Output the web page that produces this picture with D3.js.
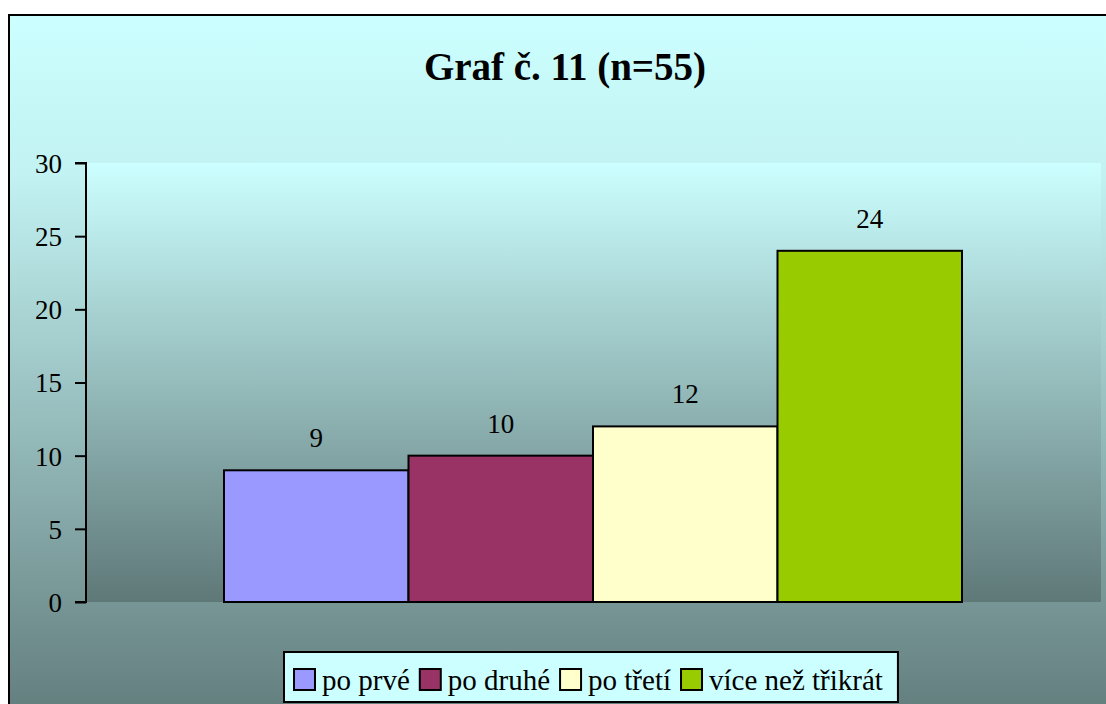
<!DOCTYPE html>
<html><head><meta charset="utf-8">
<script src="https://cdn.jsdelivr.net/npm/d3@7"></script>
</head><body style="margin:0;overflow:hidden">
<script>
const title = "Graf č. 11 (n=55)";
const series = ["po prvé", "po druhé", "po třetí", "více než třikrát"];
const values = [9, 10, 12, 24];
const colors = ["#9999FF", "#993366", "#FFFFCC", "#99CC00"];
const yTicks = [0, 5, 10, 15, 20, 25, 30];

const FONT = '"Liberation Serif"';
const W = 1106, H = 704;
const svg = d3.select("body").append("svg").attr("width", W).attr("height", H)
  .style("display","block").style("font-family", FONT);
const defs = svg.append("defs");
const g1 = defs.append("linearGradient").attr("id","outerG").attr("x1",0).attr("y1",0).attr("x2",0).attr("y2",1);
g1.append("stop").attr("offset","0%").attr("stop-color","#CCFFFF");
g1.append("stop").attr("offset","22%").attr("stop-color","#C2F2F2");
g1.append("stop").attr("offset","100%").attr("stop-color","#5F7878");
const g2 = defs.append("linearGradient").attr("id","plotG").attr("x1",0).attr("y1",0).attr("x2",0).attr("y2",1);
g2.append("stop").attr("offset","0%").attr("stop-color","#CCFFFF");
g2.append("stop").attr("offset","100%").attr("stop-color","#5F7878");

svg.append("rect").attr("x",9).attr("y",15).attr("width",W+20).attr("height",H+20)
  .attr("fill","url(#outerG)").attr("stroke","#000").attr("stroke-width",2);

const plot = {l: 87, r: 1101, t: 163, b: 602};
svg.append("rect").attr("x",plot.l).attr("y",plot.t).attr("width",plot.r-plot.l).attr("height",plot.b-plot.t)
  .attr("fill","url(#plotG)");

const y = d3.scaleLinear().domain([0,30]).range([plot.b, plot.t]);
const x = d3.scaleBand().domain(series).range([224, 962]).paddingInner(0).paddingOuter(0);

svg.selectAll("rect.bar").data(values).enter().append("rect").attr("class","bar")
  .attr("x",(d,i)=>x(series[i])).attr("y",d=>y(d))
  .attr("width",x.bandwidth()).attr("height",d=>y(0)-y(d))
  .attr("fill",(d,i)=>colors[i]).attr("stroke","#000").attr("stroke-width",2);

svg.selectAll("text.val").data(values).enter().append("text").attr("class","val")
  .attr("x",(d,i)=>x(series[i])+x.bandwidth()/2).attr("y",d=>y(d)-23)
  .attr("text-anchor","middle").style("font-family",FONT).style("font-size","27px")
  .style("fill","#000").text(d=>d);

const axis = d3.axisLeft(y).tickValues(yTicks).tickSize(11).tickPadding(13).tickFormat(d3.format("d"));
const ga = svg.append("g").attr("transform",`translate(${plot.l-1},0)`).call(axis);
ga.attr("font-family", "Liberation Serif").attr("font-size", 27);
ga.select(".domain").attr("stroke","#000").attr("stroke-width",2).attr("d",`M-11,${plot.t}H0V${plot.b}H-11`);
ga.selectAll(".tick line").attr("stroke","#000").attr("stroke-width",2);
ga.selectAll(".tick text").style("font-family",FONT).style("font-size","27px").style("fill","#000").attr("dy","0.35em");

svg.append("text").attr("x",565).attr("y",80).attr("text-anchor","middle")
  .style("font-family",FONT).style("font-weight","bold").style("font-size","39px")
  .style("fill","#000").text(title);

const leg = svg.append("g");
const legBox = leg.append("rect").attr("y",652).attr("height",50).attr("fill","#CCFFFF").attr("stroke","#000").attr("stroke-width",2);
let cx = 294;
series.forEach((s,i)=>{
  leg.append("rect").attr("x",cx).attr("y",669).attr("width",21).attr("height",21)
    .attr("fill",colors[i]).attr("stroke","#000").attr("stroke-width",2);
  const t = leg.append("text").attr("x",cx+28).attr("y",690)
    .style("font-family",FONT).style("font-size","29px").style("fill","#000").text(s);
  cx += 28 + t.node().getComputedTextLength() + 10;
});
legBox.attr("x",284).attr("width",cx - 284 + 5);
</script>
</body></html>
